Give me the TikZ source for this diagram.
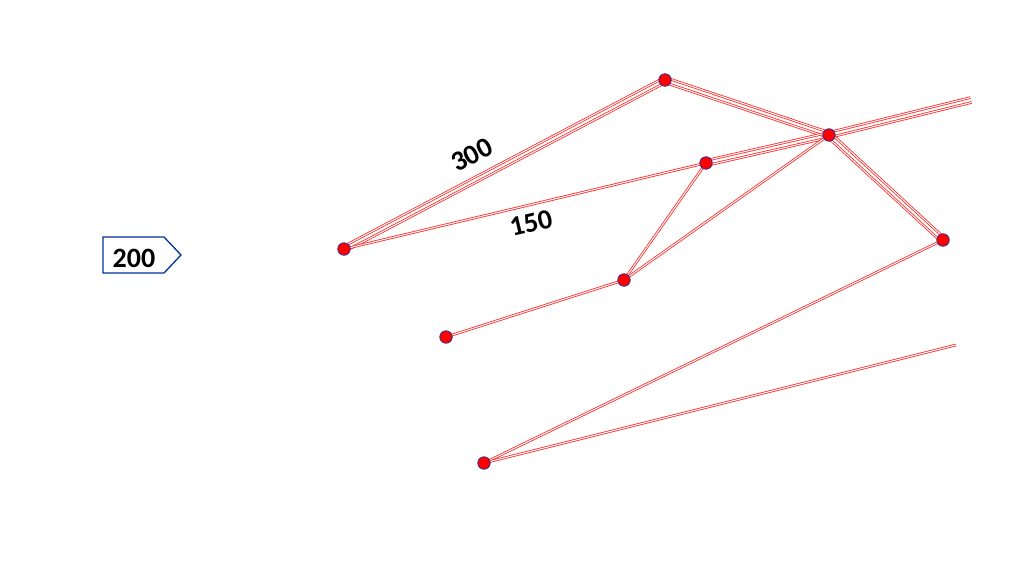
\documentclass[tikz,border=0pt]{standalone}
\usepackage{fontspec}
\setmainfont{Carlito}
\usetikzlibrary{calc,backgrounds}
\begin{document}
\begin{tikzpicture}[x=1pt,y=-1pt,
  junction/.style={circle,fill=red,draw=black!40!blue!60!gray,line width=0.8pt,minimum size=12.5pt,inner sep=0pt},
  link/.style={draw=red!85!white,line width=0.8pt,double=white,double distance=1pt},
  lbl/.style={font=\bfseries\fontsize{28}{28}\selectfont,inner sep=0pt},
  tagbox/.style={draw=blue!50!black!80!cyan,line width=1.3pt,line join=miter}]
\useasboundingbox (0,0) rectangle (1024,576);
\node[junction] (A) at (344,249) {};
\node[junction] (B) at (665,80) {};
\node[junction] (C) at (829,135) {};
\node[junction] (D) at (706,163) {};
\node[junction] (E) at (624,280) {};
\node[junction] (F) at (446,337) {};
\node[junction] (G) at (943,240) {};
\node[junction] (H) at (484,463) {};
\coordinate (P) at (971,100);
\coordinate (Q) at (956,345);
\newcommand{\pairlink}[2]{%
  \draw[link] ($(#1)!2.5pt!90:(#2)$) -- ($(#2)!2.5pt!-90:(#1)$);
  \draw[link] ($(#1)!2.5pt!-90:(#2)$) -- ($(#2)!2.5pt!90:(#1)$);}
\begin{pgfonlayer}{background}
\pairlink{A}{B}
\pairlink{B}{C}
\pairlink{D}{C}
\pairlink{C}{P}
\pairlink{C}{G}
\draw[link] (A.center) -- (D.center);
\draw[link] (D.center) -- (E.center);
\draw[link] (E.center) -- (C.center);
\draw[link] (F.center) -- (E.center);
\draw[link] (G.center) -- (H.center);
\draw[link] (H.center) -- (Q);
\end{pgfonlayer}
\node[lbl,rotate=27.8] (l300) at (472,155) {300};
\node[lbl,rotate=13.4] (l150) at (531,223) {150};
\draw[tagbox] (103,237) -- (164,237) -- (181,255) -- (164,273) -- (103,273) -- cycle;
\node[lbl] (l200) at (134,258) {200};
\end{tikzpicture}
\end{document}
